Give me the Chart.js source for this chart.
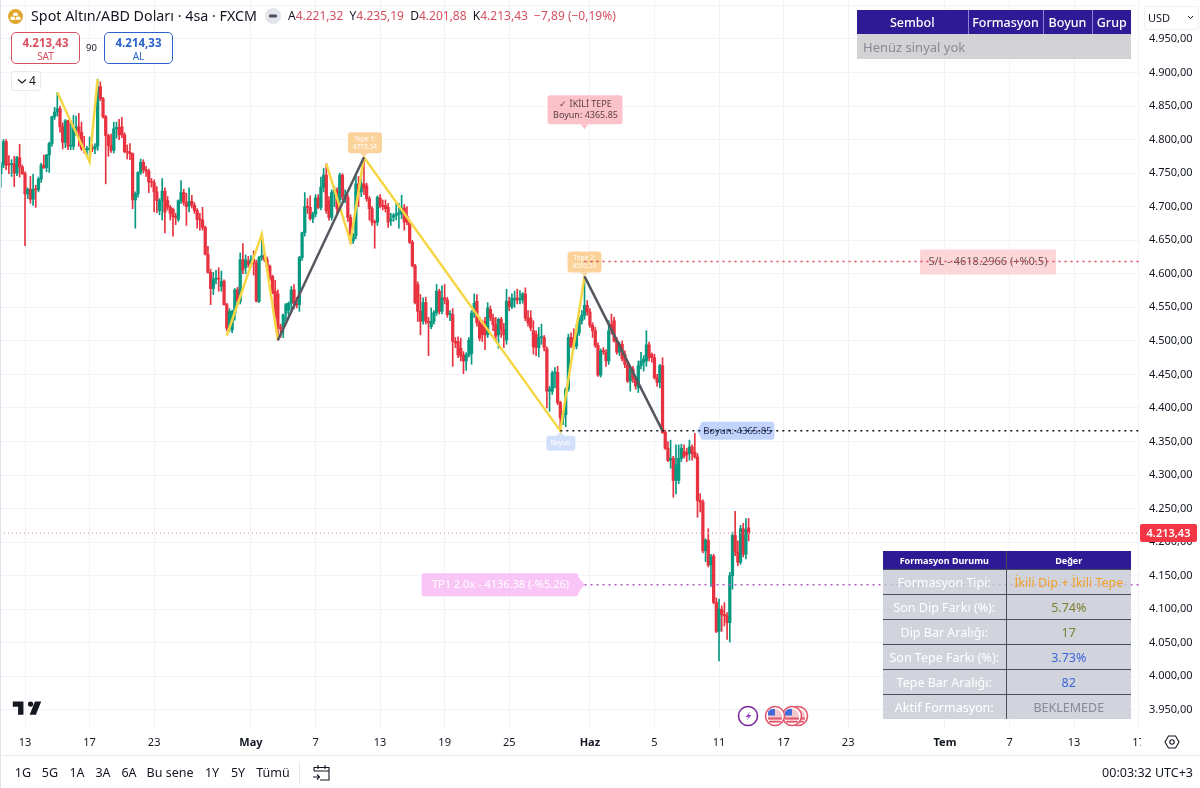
<!DOCTYPE html>
<html lang="tr">
<head>
<meta charset="utf-8">
<title>Spot Altın/ABD Doları</title>
<script src="https://cdn.jsdelivr.net/npm/chart.js@4/dist/chart.umd.min.js"></script>
<style>
    html, body { margin: 0; padding: 0; background: #fff; }
    body { width: 1200px; height: 788px; position: relative; overflow: hidden; font-family: "Noto Sans", sans-serif; color: #131722; }
    #chart { position: absolute; left: 0; top: 0; }
    .abs { position: absolute; white-space: nowrap; }
    .leftEdge { position: absolute; left: 0; top: 0; width: 1px; height: 788px; background: #e0e3eb; }
    .ohlc b { font-weight: 400; color: #131722; }
    .ohlc { color: #d4505f; font-size: 12px; }
    .tradeBox { position: absolute; top: 32px; height: 30px; width: 67px; border-radius: 5px; background: #fff; text-align: center; font-size: 10px; line-height: 12px; box-sizing: content-box; }
    .tradeBox strong { display: block; font-size: 11.5px; padding-top: 3px; line-height: 14px; }
    .sat { left: 11px; border: 1px solid #d9505f; color: #d9505f; }
    .al { left: 104px; border: 1px solid #2962c8; color: #2962c8; }
    .panel { position: absolute; border-collapse: collapse; table-layout: fixed; }
    .panel td, .panel th { padding: 0; text-align: center; overflow: hidden; white-space: nowrap; }
    #signals { left: 857px; top: 10px; width: 274px; }
    #signals th { background: #2f1a96; color: #fff; font-weight: 500; font-size: 12.5px; height: 24px; border-left: 1px solid #8d84d8; }
    #signals th:first-child { border-left: none; }
    #signals td { background: #d3d3d5; color: #868a94; font-size: 13px; height: 25px; text-align: left; padding-left: 6px; }
    #status { left: 883px; top: 551px; width: 248px; }
    #status th { background: #2f1a96; color: #fff; font-size: 9px; font-weight: 700; height: 18px; border-left: 1px solid #4a4e5a; }
    #status th:first-child { border-left: none; }
    #status td { background: rgba(197, 201, 211, 0.8); font-size: 12.5px; height: 24px; border-top: 1px solid #4a4e5a; }
    #status td:first-child { color: #fff; border-right: 1px solid #4a4e5a; }
    .range { position: absolute; top: 764px; font-size: 12.5px; transform: translateX(-50%); white-space: nowrap; }
    #axisCorner { position: absolute; left: 1141px; top: 731px; width: 59px; height: 23px; background: #fff; }
</style>
</head>
<body>
<canvas id="chart" width="1200" height="755"></canvas>
<div class="leftEdge"></div>

<!-- symbol header -->
<svg class="abs" style="left:8px;top:9px" width="15" height="15" viewBox="0 0 15 15">
    <circle cx="7.5" cy="7.5" r="7.5" fill="#e0a72c"/>
    <path d="M5.7 3.8h3.6l.8 3H4.9zM2.9 7.8h3.8l.7 3H2.2zM8.3 7.8h3.8l.7 3H7.6z" fill="#fff"/>
</svg>
<div class="abs" style="left:31px;top:6px;font-size:14.3px;line-height:20px">Spot Altın/ABD Doları · 4sa · FXCM</div>
<svg class="abs" style="left:265px;top:8px" width="16" height="16" viewBox="0 0 16 16">
    <circle cx="8" cy="8" r="8" fill="#e3e5ea"/>
    <rect x="4" y="6.6" width="8" height="2.8" rx="1" fill="#4a4e5a"/>
</svg>
<div class="abs ohlc" style="left:288px;top:7px;line-height:18px"><b>A</b>4.221,32 &nbsp;<b>Y</b>4.235,19 &nbsp;<b>D</b>4.201,88 &nbsp;<b>K</b>4.213,43 &nbsp;−7,89 (−0,19%)</div>

<div class="tradeBox sat"><strong>4.213,43</strong>SAT</div>
<div class="abs" style="left:86px;top:41px;font-size:9.5px;line-height:13px">90</div>
<div class="tradeBox al"><strong>4.214,33</strong>AL</div>

<div class="abs" style="left:11px;top:71px;width:28px;height:18px;border:1px solid #e8eaef;border-radius:3px;background:#fff">
    <svg class="abs" style="left:5px;top:6px" width="10" height="7" viewBox="0 0 10 7"><path d="M1 1.5l4 3.5 4-3.5" fill="none" stroke="#131722" stroke-width="1.1"/></svg>
    <span class="abs" style="left:17px;top:0;font-size:12px;line-height:18px">4</span>
</div>

<!-- signal table -->
<table class="panel" id="signals">
    <colgroup><col style="width:111px"><col style="width:75px"><col style="width:49px"><col style="width:39px"></colgroup>
    <tr><th>Sembol</th><th>Formasyon</th><th>Boyun</th><th>Grup</th></tr>
    <tr><td colspan="4">Henüz sinyal yok</td></tr>
</table>

<!-- currency selector -->
<div class="abs" style="left:1144px;top:6px;width:53px;height:22px;border:1px solid #eef0f4;border-radius:3px;background:#fff">
    <span class="abs" style="left:3px;top:0;font-size:11px;line-height:21px">USD</span>
    <svg class="abs" style="left:42px;top:8px" width="7" height="5" viewBox="0 0 7 5"><path d="M1 1l2.5 2.5L6 1" fill="none" stroke="#131722"/></svg>
</div>

<!-- status table -->
<table class="panel" id="status">
    <colgroup><col style="width:123px"><col style="width:125px"></colgroup>
    <tr><th>Formasyon Durumu</th><th>Değer</th></tr>
    <tr><td>Formasyon Tipi:</td><td style="color:#f2a02c">İkili Dip + İkili Tepe</td></tr>
    <tr><td>Son Dip Farkı (%):</td><td style="color:#7d8030">5.74%</td></tr>
    <tr><td>Dip Bar Aralığı:</td><td style="color:#7d8030">17</td></tr>
    <tr><td>Son Tepe Farkı (%):</td><td style="color:#3d64d8">3.73%</td></tr>
    <tr><td>Tepe Bar Aralığı:</td><td style="color:#3d64d8">82</td></tr>
    <tr><td>Aktif Formasyon:</td><td style="color:#868a95">BEKLEMEDE</td></tr>
</table>

<!-- watermark -->
<svg class="abs" style="left:11px;top:696px" width="32" height="25" viewBox="0 0 36 28">
    <path d="M14 6H2v6h6v9h6V6zm14 15h-7l6-15h7l-6 15zm-6-9a3 3 0 100-6 3 3 0 000 6z" fill="#131722"/>
</svg>

<!-- events -->
<svg class="abs" style="left:735px;top:703px" width="76" height="26" viewBox="0 0 76 26">
    <defs>
        <g id="flag">
            <circle r="9.5" fill="#fff" stroke="#e0566a" stroke-width="1.6"/>
            <circle r="7" fill="#f4c8cd"/>
            <path d="M-7 1.5h14v2h-14zM-6 5h12v1.5h-12z" fill="#e0566a"/>
            <path d="M-6.5-5a7 7 0 016.5-2v6.5h-7a7 7 0 01.5-4.5z" fill="#3f6ad8"/>
        </g>
    </defs>
    <circle cx="13" cy="13" r="9.5" fill="#fff" stroke="#7b2a9c" stroke-width="1.6"/>
    <path d="M15.5 8.5l-5 5.5h3l-2 3.5 5-5.5h-3z" fill="#9c3fc0"/>
    <use href="#flag" x="63" y="13"/>
    <use href="#flag" x="57" y="13"/>
    <use href="#flag" x="40" y="13"/>
</svg>

<div id="axisCorner">
    <svg class="abs" style="left:23px;top:3px" width="16" height="16" viewBox="0 0 16 16">
        <path d="M4.5 2h7L15 8l-3.5 6h-7L1 8z" fill="none" stroke="#131722" stroke-width="1.1"/>
        <circle cx="8" cy="8" r="2.2" fill="none" stroke="#131722" stroke-width="1.1"/>
    </svg>
</div>

<!-- bottom bar -->
<div class="abs" style="left:0;top:755px;width:1200px;height:1px;background:#e6e8ee"></div>
<div class="range" style="left:23px">1G</div>
<div class="range" style="left:50px">5G</div>
<div class="range" style="left:77px">1A</div>
<div class="range" style="left:103px">3A</div>
<div class="range" style="left:129px">6A</div>
<div class="range" style="left:170px">Bu sene</div>
<div class="range" style="left:212px">1Y</div>
<div class="range" style="left:238px">5Y</div>
<div class="range" style="left:273px">Tümü</div>
<div class="abs" style="left:299px;top:762px;width:1px;height:22px;background:#e6e8ee"></div>
<svg class="abs" style="left:312px;top:763px" width="19" height="19" viewBox="0 0 19 19">
    <path d="M2 8V4.5h15V17H8M2 8h15M6 2v4M13 2v4M1 14h6M5 11.5L7.5 14 5 16.5" fill="none" stroke="#131722" stroke-width="1.1"/>
</svg>
<div class="abs" style="right:7px;top:764px;font-size:12.5px">00:03:32 UTC+3</div>

<script>
// candle values
const opens = [
    4749,4762,4797,4763,4763,4764,4750,4773,4759,4749,
    4719,4726,4711,4726,4725,4741,4762,4758,4777,4794,
    4834,4841,4846,4819,4796,4828,4790,4790,4814,4819,
    4811,4786,4785,4785,4787,4786,4790,4879,4861,4834,
    4806,4791,4784,4816,4818,4819,4807,4782,4781,4779,
    4710,4719,4751,4766,4755,4753,4737,4736,4722,4694,
    4709,4723,4709,4699,4696,4685,4681,4709,4721,4706,
    4701,4708,4702,4694,4681,4680,4669,4629,4602,4578,
    4592,4593,4581,4589,4554,4519,4516,4541,4576,4559,
    4621,4609,4619,4614,4621,4616,4559,4624,4627,4621,
    4611,4596,4574,4570,4521,4521,4541,4546,4556,4576,
    4556,4554,4624,4661,4700,4699,4682,4689,4713,4699,
    4729,4747,4709,4684,4721,4725,4710,4747,4714,4714,
    4684,4649,4657,4734,4722,4734,4731,4712,4697,4677,
    4677,4713,4702,4702,4699,4679,4684,4687,4689,4689,
    4698,4686,4677,4647,4612,4584,4544,4530,4557,4529,
    4521,4529,4542,4574,4544,4564,4561,4539,4539,4499,
    4499,4489,4479,4470,4479,4481,4541,4559,4527,4524,
    4529,4509,4547,4534,4524,4509,4532,4517,4501,4559,
    4551,4561,4564,4561,4561,4570,4534,4534,4515,4510,
    4490,4505,4505,4488,4425,4425,4452,4453,4408,4385,
    4390,4428,4505,4505,4492,4512,4530,4538,4553,4543,
    4523,4515,4493,4449,4485,4483,4470,4525,4530,4500,
    4483,4495,4480,4465,4440,4458,4443,4430,4463,4468,
    4470,4494,4480,4475,4445,4438,4463,4364,4340,4322,
    4325,4292,4292,4325,4335,4334,4332,4342,4334,4327,
    4262,4260,4187,4203,4166,4179,4110,4067,4100,4092,
    4090,4080,4150,4210,4185,4170,4220,4182,4221.32
];
const highs = [
    4766,4800,4800,4776,4770,4775,4775,4793,4762,4752,
    4728,4745,4748,4732,4744,4765,4777,4778,4796,4835,
    4848,4870,4850,4825,4830,4829,4828,4836,4835,4839,
    4826,4805,4790,4804,4793,4794,4890,4886,4863,4836,
    4808,4808,4826,4826,4830,4833,4810,4792,4794,4780,
    4722,4752,4771,4770,4760,4756,4742,4740,4730,4712,
    4742,4728,4715,4702,4698,4690,4710,4739,4726,4720,
    4728,4717,4706,4697,4690,4699,4671,4641,4607,4602,
    4605,4609,4604,4591,4556,4548,4546,4578,4580,4631,
    4645,4628,4626,4627,4634,4620,4626,4659,4631,4625,
    4613,4598,4590,4576,4525,4540,4556,4558,4581,4584,
    4565,4626,4662,4721,4712,4716,4692,4718,4718,4744,
    4757,4764,4715,4725,4730,4728,4750,4749,4725,4718,
    4688,4660,4750,4745,4750,4773.54,4735,4715,4700,4680,
    4716,4718,4710,4710,4705,4690,4690,4705,4705,4717,
    4703,4700,4680,4650,4614,4588,4569,4564,4565,4535,
    4549,4545,4584,4577,4582,4584,4565,4545,4548,4505,
    4506,4504,4484,4482,4505,4545,4570,4569,4535,4531,
    4535,4557,4552,4540,4535,4534,4535,4526,4577,4565,
    4570,4574,4577,4575,4572,4579,4545,4545,4530,4515,
    4520,4525,4508,4491,4432,4455,4460,4462,4410,4395,
    4430,4510,4512,4518,4525,4535,4545,4596,4560,4548,
    4527,4520,4497,4488,4490,4487,4530,4540,4535,4505,
    4498,4500,4485,4468,4462,4462,4447,4470,4483,4478,
    4515,4498,4482,4480,4450,4465,4475,4367,4350,4352,
    4328,4345,4345,4346,4345,4340,4352,4345,4362,4332,
    4272,4263,4205,4220,4182,4182,4117,4115,4105,4110,
    4095,4155,4215,4246,4202,4225,4228,4235,4235.19
];
const lows = [
    4729,4758,4755,4749,4745,4730,4746,4744,4748,4642,
    4712,4705,4702,4699,4722,4736,4757,4752,4751,4790,
    4830,4835,4811,4786,4788,4785,4785,4785,4806,4790,
    4784,4780,4775,4766,4782,4779,4784,4858,4832,4734,
    4775,4781,4780,4802,4800,4803,4780,4771,4770,4697,
    4668,4714,4748,4750,4745,4721,4729,4692,4691,4688,
    4680,4661,4695,4680,4656,4673,4678,4705,4702,4672,
    4692,4698,4690,4668,4665,4665,4628,4601,4554,4569,
    4585,4574,4574,4553,4515,4514,4512,4531,4553,4555,
    4600,4600,4610,4610,4598,4558,4557,4620,4618,4608,
    4590,4570,4525,4501,4505,4505,4530,4535,4545,4548,
    4549,4544,4620,4656,4690,4680,4676,4685,4697,4695,
    4722,4690,4680,4680,4700,4690,4705,4710,4706,4678,
    4645,4645,4652,4700,4715,4718,4708,4680,4672,4638,
    4672,4698,4695,4692,4669,4672,4678,4680,4668,4682,
    4665,4673,4645,4610,4555,4529,4509,4525,4525,4478,
    4518,4525,4538,4540,4540,4555,4535,4530,4462,4490,
    4475,4470,4451,4456,4476,4465,4535,4522,4500,4499,
    4487,4505,4530,4515,4500,4489,4505,4490,4495,4545,
    4548,4550,4555,4555,4556,4530,4522,4515,4480,4478,
    4476,4495,4485,4400,4395,4420,4430,4405,4365.85,4375,
    4372,4425,4490,4488,4488,4508,4525,4532,4538,4520,
    4505,4490,4447,4446,4480,4462,4465,4510,4498,4480,
    4478,4470,4460,4438,4425,4438,4428,4423,4458,4455,
    4462,4470,4468,4443,4432,4430,4362,4338,4320,4310,
    4267,4272,4287,4320,4325,4320,4322,4322,4325,4237,
    4245,4184,4171,4163,4134,4108,4065,4023,4067,4075,
    4055,4051,4130,4180,4165,4167,4178,4175,4201.88
];
const closes = [
    4762,4797,4762,4762,4763,4750,4773,4759,4749,4719,
    4726,4711,4726,4725,4741,4762,4758,4777,4794,4834,
    4841,4846,4819,4796,4828,4790,4790,4819,4819,4811,
    4786,4785,4785,4787,4786,4790,4879,4861,4834,4806,
    4791,4784,4816,4818,4807,4807,4782,4781,4779,4710,
    4719,4751,4766,4755,4753,4737,4736,4722,4709,4709,
    4723,4692,4699,4690,4685,4684,4709,4721,4706,4700,
    4708,4702,4694,4681,4680,4669,4629,4602,4578,4592,
    4593,4592,4589,4554,4519,4544,4544,4576,4559,4621,
    4606,4621,4614,4621,4616,4559,4624,4627,4621,4611,
    4592,4571,4535,4521,4518,4539,4554,4556,4576,4556,
    4553,4624,4661,4700,4699,4682,4689,4713,4699,4729,
    4747,4694,4684,4721,4725,4697,4747,4714,4717,4684,
    4649,4657,4734,4722,4734,4727,4712,4697,4677,4676,
    4714,4702,4700,4697,4677,4681,4687,4689,4691,4698,
    4677,4677,4647,4612,4557,4544,4529,4557,4529,4527,
    4529,4542,4574,4544,4564,4561,4539,4540,4499,4497,
    4479,4477,4470,4479,4501,4541,4556,4527,4504,4509,
    4509,4549,4534,4524,4507,4532,4517,4509,4559,4551,
    4564,4563,4561,4562,4570,4534,4527,4519,4491,4490,
    4505,4506,4490,4425,4428,4452,4453,4408,4385,4392,
    4428,4505,4492,4492,4512,4530,4538,4553,4543,4523,
    4515,4493,4449,4485,4484,4470,4515,4515,4500,4483,
    4495,4473,4465,4440,4458,4443,4433,4463,4470,4473,
    4494,4475,4475,4445,4438,4463,4363,4340,4322,4325,
    4292,4315,4325,4340,4328,4330,4342,4332,4327,4262,
    4260,4187,4203,4166,4179,4110,4067,4100,4092,4090,
    4080,4150,4210,4185,4170,4220,4182,4218,4213.43
];

// pattern legs, as bar number and price
const yellowBarsA = [21, 33, 36];
const yellowPricesA = [4870, 4767, 4890];
const yellowBarsB = [84, 97, 103];
const yellowPricesB = [4508, 4659, 4501];
const yellowBarsC = [121, 130, 135];
const yellowPricesC = [4764, 4648, 4773.54];
const yellowBarsD = [135, 208, 217];
const yellowPricesD = [4773.54, 4365.85, 4596];
const greyBarsA = [103, 135];
const greyPricesA = [4501, 4773.54];
const greyBarsB = [217, 246];
const greyPricesB = [4596, 4365.85];

const lastBar = 423.5;
const stopPrice = 4618.2966;
const neckPrice = 4365.85;
const targetPrice = 4136.38;
const lastPrice = 4213.43;

// date axis
const tickBars = [9, 33, 57, 93, 117, 141, 165, 189, 219, 243, 267, 291, 315, 351, 375, 399, 423];
const tickLabels = ['13', '17', '23', 'May', '7', '13', '19', '25', 'Haz', '5', '11', '17', '23', 'Tem', '7', '13', '17'];
const monthLabels = ['May', 'Haz', 'Tem'];

const UP = '#089981';
const DOWN = '#e8323f';
const YELLOW = '#f6d743';
const GREY = '#55585f';
const FONT = '"Noto Sans", sans-serif';

function formatPrice(value) {
    const parts = value.toFixed(2).split('.');
    return parts[0].replace(/\B(?=(\d{3})+$)/g, '.') + ',' + parts[1];
}

const legLine = (bars, prices, color) => ({
    type: 'line',
    data: bars.map((b, i) => ({ x: b, y: prices[i] })),
    borderColor: color,
    borderWidth: 2.5,
    pointRadius: 0,
    tension: 0,
    order: 1
});

const levelLine = (fromBar, price, color, dash, width = 1.5) => ({
    type: 'line',
    data: [{ x: fromBar, y: price }, { x: lastBar, y: price }],
    borderColor: color,
    borderWidth: width,
    borderDash: dash,
    pointRadius: 0,
    order: 0
});

const candleColors = closes.map((c, i) => (c >= opens[i] ? UP : DOWN));

function roundBox(ctx, x, y, w, h, fill, r = 3) {
    ctx.fillStyle = fill;
    ctx.beginPath();
    ctx.roundRect(x, y, w, h, r);
    ctx.fill();
}

function triangle(ctx, x1, y1, x2, y2, x3, y3, fill) {
    ctx.fillStyle = fill;
    ctx.beginPath();
    ctx.moveTo(x1, y1);
    ctx.lineTo(x2, y2);
    ctx.lineTo(x3, y3);
    ctx.closePath();
    ctx.fill();
}

function label(ctx, lines, cx, cy, size, color, lineGap) {
    ctx.fillStyle = color;
    ctx.font = `${size}px ${FONT}`;
    ctx.textAlign = 'center';
    ctx.textBaseline = 'middle';
    lines.forEach((t, i) => ctx.fillText(t, cx, cy + (i - (lines.length - 1) / 2) * lineGap));
}

// pattern callouts sit under the lines, the dotted levels run over their text
const calloutPlugin = {
    id: 'callouts',
    beforeDatasetsDraw(chart) {
        const { ctx, scales: { x, y } } = chart;
        ctx.save();

        // Tepe 1
        let px = x.getPixelForValue(135), py = y.getPixelForValue(4773.54);
        roundBox(ctx, px - 16, py - 25, 34, 21, '#fbd29a');
        triangle(ctx, px - 4, py - 4, px + 4, py - 4, px, py, '#fbd29a');
        label(ctx, ['Tepe 1:', '4773.54'], px + 1, py - 14.5, 6.5, '#fff', 8);

        // Tepe 2
        px = x.getPixelForValue(217); py = y.getPixelForValue(4596);
        roundBox(ctx, px - 17, py - 25, 34, 21, '#fbd29a');
        triangle(ctx, px - 4, py - 4, px + 4, py - 4, px, py, '#fbd29a');
        label(ctx, ['Tepe 2:', '4595.53'], px, py - 14.5, 6.5, '#fff', 8);

        // Boyun under the first neck touch
        px = x.getPixelForValue(208); py = y.getPixelForValue(neckPrice);
        roundBox(ctx, px - 14, py + 5, 29, 15, '#d3e0fb');
        triangle(ctx, px - 4, py + 5, px + 4, py + 5, px, py + 1, '#d3e0fb');
        label(ctx, ['Boyun'], px, py + 12.5, 6.5, '#fff', 8);

        // pattern title over the second top
        px = x.getPixelForValue(217); py = y.getPixelForValue(4860);
        roundBox(ctx, px - 37, py - 4, 75, 29, '#fcc2c9');
        triangle(ctx, px - 4, py + 25, px + 4, py + 25, px, py + 30, '#fcc2c9');
        label(ctx, ['✓ İKİLİ TEPE', 'Boyun: 4365.85'], px + 1, py + 10.5, 9, '#5c4247', 11);

        // stop level
        px = x.getPixelForValue(367); py = y.getPixelForValue(stopPrice);
        roundBox(ctx, px - 68, py - 12, 136, 25, '#fcd6d8', 2);
        label(ctx, ['S/L - 4618.2966 (+%0.5)'], px, py + 0.5, 11, '#6e5558', 12);

        // neck level
        px = x.getPixelForValue(258.6); py = y.getPixelForValue(neckPrice);
        roundBox(ctx, px + 4, py - 9, 74, 18, '#c2d4fb');
        triangle(ctx, px, py, px + 5, py - 7, px + 5, py + 7, '#c2d4fb');
        label(ctx, ['Boyun: 4365.85'], px + 41, py, 9.5, '#1e2a55', 12);

        // first target
        px = x.getPixelForValue(217); py = y.getPixelForValue(targetPrice);
        roundBox(ctx, px - 163, py - 11.5, 157, 23, '#f9c5f6');
        triangle(ctx, px - 7, py - 9, px - 7, py + 9, px, py, '#f9c5f6');
        label(ctx, ['TP1 2.0x - 4136.38 (-%5.26)'], px - 84, py, 11, '#fff', 12);

        ctx.restore();
    },
    afterDraw(chart) {
        const { ctx, scales: { y } } = chart;
        const py = y.getPixelForValue(lastPrice);
        ctx.save();
        roundBox(ctx, 1140, py - 9, 57, 18, '#f23645', 2);
        ctx.font = `600 11px ${FONT}`;
        ctx.fillStyle = '#fff';
        ctx.textAlign = 'center';
        ctx.textBaseline = 'middle';
        ctx.fillText(formatPrice(lastPrice), 1168.5, py + 0.5);
        ctx.restore();
    }
};

new Chart(document.getElementById('chart').getContext('2d'), {
    type: 'bar',
    data: {
        datasets: [
            levelLine(-0.3, lastPrice, '#e3a3ad', [1, 3], 1.2),
            levelLine(217, stopPrice, '#d84a55', [2, 4]),
            levelLine(208, neckPrice, '#131722', [2, 4]),
            levelLine(217, targetPrice, '#b45cc4', [2, 4]),
            legLine(greyBarsA, greyPricesA, GREY),
            legLine(greyBarsB, greyPricesB, GREY),
            legLine(yellowBarsA, yellowPricesA, YELLOW),
            legLine(yellowBarsB, yellowPricesB, YELLOW),
            legLine(yellowBarsC, yellowPricesC, YELLOW),
            legLine(yellowBarsD, yellowPricesD, YELLOW),
            {
                // candle bodies
                data: opens.map((o, i) => ({ x: i, y: [o, closes[i]] })),
                backgroundColor: candleColors,
                barThickness: 2.6,
                minBarLength: 1,
                grouped: false,
                order: 2
            },
            {
                // wicks
                data: lows.map((l, i) => ({ x: i, y: [l, highs[i]] })),
                backgroundColor: candleColors,
                barThickness: 1,
                grouped: false,
                order: 3
            }
        ]
    },
    options: {
        responsive: false,
        animation: false,
        devicePixelRatio: 1,
        plugins: { legend: { display: false }, tooltip: { enabled: false } },
        layout: { padding: 0 },
        scales: {
            x: {
                type: 'linear',
                offset: false,
                min: -0.3,
                max: lastBar,
                afterBuildTicks: axis => { axis.ticks = tickBars.map(v => ({ value: v })); },
                afterFit: axis => { axis.height = 25; axis.paddingLeft = 0; axis.paddingRight = 0; },
                grid: { color: '#f0f3fa', drawTicks: false, offset: false },
                border: { display: false },
                ticks: {
                    autoSkip: false,
                    maxRotation: 0,
                    padding: 6,
                    color: '#131722',
                    font: ctx => ({
                        family: FONT,
                        size: 11,
                        weight: monthLabels.includes(ctx.tick && ctx.tick.label) ? 'bold' : 'normal'
                    }),
                    callback: value => tickLabels[tickBars.indexOf(value)]
                }
            },
            y: {
                position: 'right',
                min: 3920,
                max: 5008,
                afterFit: axis => { axis.width = 60; axis.paddingTop = 0; axis.paddingBottom = 0; },
                grid: { color: '#f0f3fa', drawTicks: false },
                border: { display: false },
                ticks: {
                    stepSize: 50,
                    includeBounds: false,
                    padding: 9,
                    color: '#131722',
                    font: { family: FONT, size: 11 },
                    callback: value => (value > 4950 ? '' : formatPrice(value))
                }
            }
        }
    },
    plugins: [calloutPlugin]
});
</script>
</body>
</html>
